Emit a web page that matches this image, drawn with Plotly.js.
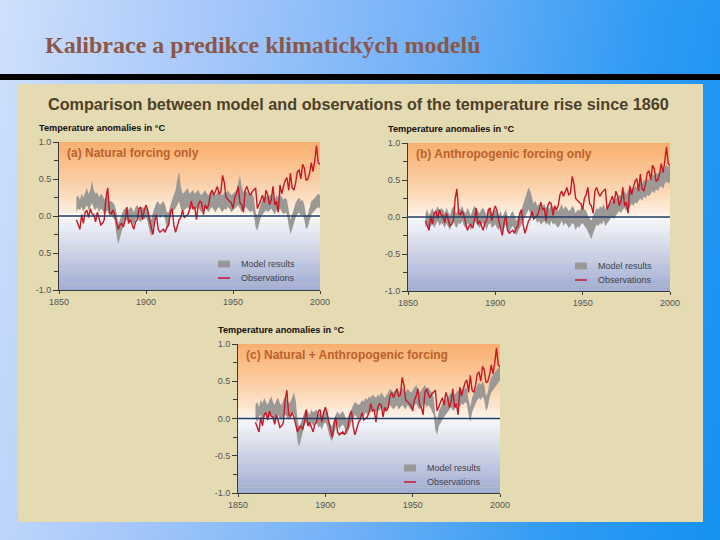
<!DOCTYPE html>
<html>
<head>
<meta charset="utf-8">
<script src="https://cdn.plot.ly/plotly-3.0.1.min.js"></script>
<style>
html,body{margin:0;padding:0;width:720px;height:540px;overflow:hidden;
background:linear-gradient(100deg,#cfe0fb 0%,#a9c9fa 25%,#6fb0f7 55%,#2f9bf4 80%,#1591f2 100%);}
#chart{width:720px;height:540px;}
</style>
</head>
<body>
<div id="chart"></div>
<script>
// ---- data ----
const startYear = 1860;
const endYear = 2000;
const xTickVals = [1850, 1900, 1950, 2000];
const xTickText = ["1850", "1900", "1950", "2000"];
const yTickVals = [1, 0.5, 0, -0.5, -1];
const yTickTextA = ["1.0", "0.5", "0.0", "0.5", "-1.0"];
const yTickTextB = ["1.0", "0.5", "0.0", "-0.5", "-1.0"];
const yTickTextC = ["1.0", "0.5", "0.0", "-0.5", "-1.0"];

const observations = [
 -0.05,-0.12,-0.18,0.02,-0.10,0.05,0.08,-0.02,0.10,0.03,
 0.02,-0.08,0.05,-0.03,-0.12,-0.10,-0.05,0.25,0.38,0.05,
 0.03,0.08,0.02,-0.08,-0.18,-0.12,-0.10,-0.15,-0.05,0.12,
 -0.10,-0.05,-0.12,-0.18,-0.08,-0.05,0.10,0.12,-0.05,0.08,
 0.15,0.08,-0.05,-0.15,-0.25,-0.08,0.02,-0.18,-0.22,-0.20,
 -0.18,-0.22,-0.15,-0.12,0.05,0.10,-0.12,-0.22,-0.12,-0.05,
 -0.02,0.08,-0.02,0.00,0.02,0.08,0.20,0.10,0.12,-0.05,
 0.15,0.20,0.18,0.02,0.15,0.10,0.15,0.30,0.35,0.28,
 0.35,0.40,0.30,0.32,0.55,0.45,0.25,0.22,0.20,0.18,
 0.10,0.25,0.30,0.40,0.18,0.15,0.05,0.35,0.40,0.32,
 0.28,0.33,0.35,0.38,0.10,0.15,0.22,0.28,0.18,0.35,
 0.28,0.15,0.22,0.40,0.15,0.20,0.05,0.42,0.30,0.40,
 0.48,0.52,0.35,0.58,0.38,0.35,0.45,0.60,0.62,0.50,
 0.70,0.65,0.48,0.50,0.58,0.72,0.60,0.75,0.95,0.72,
 0.70];

const naturalLower = [
 0.05,0.10,0.08,0.12,0.06,0.10,0.15,0.08,0.12,0.18,
 0.10,0.08,0.12,0.05,0.10,0.08,0.02,0.05,0.08,0.00,
 0.02,-0.02,-0.05,-0.25,-0.38,-0.30,-0.20,-0.12,-0.08,-0.05,
 -0.10,-0.05,-0.08,-0.12,-0.05,-0.02,-0.06,-0.08,-0.03,-0.05,
 -0.02,-0.08,-0.20,-0.28,-0.15,-0.05,0.00,0.02,-0.03,0.00,
 0.02,-0.05,-0.18,-0.15,-0.02,0.05,0.08,0.10,0.15,0.20,
 0.10,0.05,0.08,0.10,0.12,0.08,0.10,0.12,0.08,0.10,
 0.12,0.08,0.05,0.10,0.12,0.08,0.05,0.10,0.12,0.08,
 0.05,0.10,0.12,0.08,0.05,0.10,0.08,0.12,0.10,0.05,
 0.08,0.10,0.12,0.15,0.10,0.05,0.08,0.12,0.10,0.08,
 0.05,0.08,0.02,-0.15,-0.20,-0.10,-0.02,0.02,0.05,0.08,
 0.05,0.08,0.10,0.06,0.02,0.08,0.05,0.10,0.06,0.02,
 0.05,0.02,-0.12,-0.25,-0.18,-0.08,-0.02,0.02,0.05,0.00,
 0.02,-0.05,-0.18,-0.15,-0.05,0.02,0.05,0.08,0.10,0.12,
 0.10];
const naturalUpper = [
 0.25,0.28,0.22,0.30,0.25,0.32,0.38,0.30,0.35,0.48,
 0.35,0.30,0.32,0.25,0.30,0.28,0.22,0.25,0.28,0.20,
 0.20,0.18,0.15,0.05,-0.10,-0.05,0.02,0.08,0.10,0.12,
 0.08,0.12,0.10,0.05,0.12,0.15,0.10,0.08,0.12,0.10,
 0.15,0.10,0.02,-0.05,0.05,0.12,0.18,0.20,0.15,0.18,
 0.20,0.15,0.05,0.05,0.15,0.22,0.28,0.35,0.50,0.60,
 0.40,0.30,0.32,0.35,0.38,0.30,0.32,0.35,0.30,0.32,
 0.35,0.30,0.28,0.32,0.35,0.30,0.28,0.32,0.35,0.30,
 0.28,0.32,0.35,0.30,0.28,0.32,0.30,0.35,0.32,0.28,
 0.30,0.32,0.35,0.45,0.55,0.40,0.32,0.35,0.32,0.30,
 0.28,0.30,0.25,0.05,0.00,0.10,0.18,0.22,0.25,0.28,
 0.25,0.28,0.30,0.26,0.22,0.28,0.25,0.30,0.26,0.22,
 0.25,0.22,0.08,-0.05,0.02,0.12,0.18,0.22,0.25,0.20,
 0.22,0.15,0.00,0.02,0.12,0.20,0.22,0.25,0.28,0.30,
 0.28];

const anthroLower = [
 -0.15,-0.10,-0.18,-0.12,-0.08,-0.15,-0.10,-0.05,-0.12,-0.08,
 -0.10,-0.15,-0.08,-0.12,-0.18,-0.10,-0.05,-0.12,-0.15,-0.08,
 -0.10,-0.05,-0.12,-0.15,-0.08,-0.12,-0.18,-0.10,-0.05,-0.08,
 -0.12,-0.15,-0.10,-0.08,-0.12,-0.18,-0.10,-0.08,-0.15,-0.12,
 -0.10,-0.15,-0.18,-0.12,-0.20,-0.15,-0.10,-0.18,-0.22,-0.15,
 -0.12,-0.18,-0.25,-0.20,-0.15,-0.10,-0.05,0.00,0.05,0.10,
 0.05,0.00,-0.05,-0.02,-0.08,-0.05,-0.10,-0.08,-0.05,-0.10,
 -0.08,-0.12,-0.05,-0.10,-0.08,-0.12,-0.15,-0.10,-0.05,-0.12,
 -0.08,-0.10,-0.15,-0.12,-0.08,-0.10,-0.18,-0.12,-0.15,-0.10,
 -0.08,-0.12,-0.15,-0.20,-0.25,-0.30,-0.22,-0.15,-0.10,-0.12,
 -0.08,-0.10,-0.05,-0.12,-0.08,-0.05,-0.02,0.00,-0.03,0.02,
 0.05,0.08,0.05,0.10,0.12,0.08,0.15,0.12,0.18,0.15,
 0.20,0.18,0.22,0.25,0.22,0.28,0.25,0.30,0.28,0.32,
 0.35,0.32,0.38,0.35,0.40,0.42,0.38,0.45,0.48,0.45,
 0.48];
const anthroUpper = [
 0.05,0.10,0.02,0.08,0.12,0.05,0.10,0.15,0.08,0.12,
 0.10,0.05,0.12,0.08,0.02,0.10,0.15,0.08,0.05,0.12,
 0.10,0.15,0.08,0.05,0.12,0.08,0.02,0.10,0.15,0.12,
 0.08,0.05,0.10,0.12,0.08,0.02,0.10,0.12,0.05,0.08,
 0.10,0.05,0.02,0.08,0.00,0.05,0.10,0.02,-0.02,0.05,
 0.08,0.02,-0.05,0.00,0.05,0.10,0.18,0.25,0.32,0.40,
 0.35,0.25,0.18,0.22,0.15,0.18,0.12,0.15,0.18,0.12,
 0.15,0.10,0.18,0.12,0.15,0.10,0.08,0.12,0.18,0.10,
 0.15,0.12,0.08,0.10,0.15,0.12,0.05,0.10,0.08,0.12,
 0.15,0.10,0.08,0.02,-0.02,-0.05,0.02,0.08,0.12,0.10,
 0.15,0.12,0.18,0.10,0.15,0.18,0.20,0.22,0.20,0.25,
 0.28,0.30,0.28,0.32,0.35,0.30,0.38,0.35,0.40,0.38,
 0.42,0.40,0.45,0.48,0.45,0.50,0.48,0.52,0.50,0.55,
 0.58,0.55,0.60,0.58,0.62,0.65,0.60,0.68,0.70,0.68,
 0.70];

const combinedLower = [
 0.00,-0.05,0.02,0.05,-0.02,0.03,0.05,0.00,0.02,0.05,
 0.00,-0.03,0.02,0.05,0.00,-0.02,0.03,0.05,0.02,-0.02,
 0.00,0.05,0.08,-0.05,-0.30,-0.38,-0.28,-0.18,-0.10,-0.05,
 -0.08,-0.12,-0.05,-0.10,-0.08,-0.05,-0.12,-0.10,-0.15,-0.08,
 -0.05,-0.10,-0.20,-0.28,-0.30,-0.20,-0.12,-0.08,-0.15,-0.10,
 -0.08,-0.12,-0.22,-0.18,-0.10,-0.05,0.00,0.05,0.02,-0.02,
 0.00,0.05,0.02,0.08,0.05,0.10,0.08,0.12,0.10,0.08,
 0.12,0.10,0.15,0.12,0.08,0.12,0.15,0.18,0.15,0.12,
 0.15,0.18,0.12,0.15,0.18,0.15,0.12,0.18,0.15,0.12,
 0.15,0.18,0.20,0.15,0.12,0.15,0.18,0.20,0.15,0.18,
 0.15,0.10,0.05,-0.15,-0.22,-0.10,-0.05,-0.02,0.02,0.05,
 0.08,0.12,0.15,0.10,0.12,0.15,0.18,0.15,0.20,0.18,
 0.22,0.20,0.05,-0.05,0.08,0.15,0.20,0.25,0.28,0.25,
 0.30,0.25,0.10,0.15,0.28,0.35,0.38,0.42,0.45,0.48,
 0.52];
const combinedUpper = [
 0.18,0.22,0.15,0.25,0.20,0.28,0.22,0.18,0.25,0.30,
 0.22,0.18,0.25,0.28,0.20,0.18,0.25,0.30,0.25,0.20,
 0.22,0.28,0.35,0.25,0.00,-0.12,-0.05,0.02,0.08,0.12,
 0.10,0.05,0.12,0.08,0.10,0.12,0.05,0.08,0.02,0.10,
 0.12,0.08,0.00,-0.08,-0.10,0.00,0.05,0.10,0.05,0.08,
 0.10,0.05,-0.02,0.02,0.08,0.12,0.18,0.22,0.20,0.18,
 0.20,0.25,0.22,0.28,0.25,0.30,0.28,0.32,0.30,0.28,
 0.32,0.30,0.35,0.32,0.28,0.32,0.35,0.40,0.38,0.35,
 0.38,0.40,0.35,0.38,0.42,0.38,0.35,0.40,0.38,0.35,
 0.38,0.42,0.45,0.40,0.35,0.38,0.42,0.45,0.40,0.42,
 0.38,0.35,0.28,0.05,-0.02,0.10,0.15,0.20,0.22,0.25,
 0.28,0.32,0.35,0.30,0.32,0.35,0.38,0.35,0.40,0.38,
 0.42,0.40,0.25,0.15,0.28,0.35,0.40,0.45,0.48,0.45,
 0.50,0.45,0.30,0.35,0.48,0.55,0.58,0.62,0.65,0.68,
 0.72];

const panelLabels = ["(a) Natural forcing only", "(b) Anthropogenic forcing only", "(c) Natural + Anthropogenic forcing"];
const legendNames = ["Model results", "Observations"];
const slideTitle = "Kalibrace a predikce klimatických modelů";
const heading = "Comparison between model and observations of the temperature rise since 1860";
const yAxisLabel = "Temperature anomalies in °C";

// ---- build ----
const years = [];
for (let y = startYear; y <= endYear; y++) years.push(y);

const W = 720, H = 540;
const px = v => v / W;
const py = v => 1 - v / H;

const panels = [
  {xa:'x', ya:'y', lower:naturalLower, upper:naturalUpper, ticks:yTickTextA,
   left:59, right:320, top:142, bottom:290, legX:218, legY:264},
  {xa:'x2', ya:'y2', lower:anthroLower, upper:anthroUpper, ticks:yTickTextB,
   left:408, right:670, top:143, bottom:291, legX:575, legY:266},
  {xa:'x3', ya:'y3', lower:combinedLower, upper:combinedUpper, ticks:yTickTextC,
   left:238, right:500, top:344, bottom:493, legX:404, legY:468}
];

const grayBand = 'rgb(155,153,150)';
const redLine = 'rgb(200,24,38)';
const axisCol = '#3a3a3a';
const tickFont = {family:'Liberation Sans, Arial, sans-serif', size:9, color:'#555'};
const legFont = {family:'Liberation Sans, Arial, sans-serif', size:9, color:'#444'};

const traces = [];
const layout = {
  width:W, height:H, margin:{l:0,r:0,t:0,b:0},
  paper_bgcolor:'rgba(0,0,0,0)', plot_bgcolor:'rgba(0,0,0,0)',
  showlegend:false, shapes:[], annotations:[]
};

function lerp(a,b,t){return a.map((v,i)=>Math.round(v+(b[i]-v)*t));}
const topCol=[250,172,104], midTop=[255,249,243], midBot=[248,249,253], botCol=[155,168,211];

panels.forEach((p, i) => {
  const n = i === 0 ? '' : String(i+1);
  traces.push({x:years, y:p.lower, xaxis:p.xa, yaxis:p.ya, mode:'lines', line:{width:0, color:grayBand},
    hoverinfo:'skip', name:legendNames[0]+' (low)'});
  traces.push({x:years, y:p.upper, xaxis:p.xa, yaxis:p.ya, mode:'lines', line:{width:0, color:grayBand},
    fill:'tonexty', fillcolor:grayBand, name:legendNames[0]});
  traces.push({x:years, y:observations, xaxis:p.xa, yaxis:p.ya, mode:'lines',
    line:{width:1.4, color:redLine}, name:legendNames[1]});

  const xd = [px(p.left), px(p.right)];
  const yd = [py(p.bottom), py(p.top)];
  layout['xaxis'+n] = {domain:xd, range:[1850,2000], anchor:p.ya, tickmode:'array', tickvals:xTickVals,
    ticktext:xTickText, ticks:'outside', ticklen:3, tickcolor:axisCol, showline:true, linecolor:axisCol,
    linewidth:1, showgrid:false, zeroline:false, tickfont:tickFont, fixedrange:true};
  layout['yaxis'+n] = {domain:yd, range:[-1,1], anchor:p.xa, tickmode:'array', tickvals:yTickVals,
    ticktext:p.ticks, ticks:'outside', ticklen:5, tickcolor:axisCol, showline:true, linecolor:axisCol,
    linewidth:1, showgrid:false, zeroline:false, tickfont:tickFont,
    minor:{tickmode:'linear', tick0:0, dtick:0.25, ticks:'outside', ticklen:4, tickcolor:axisCol}};
  const rn = String(i+4);
  layout['yaxis'+rn] = {domain:yd, range:[-1,1], overlaying:p.ya, anchor:p.xa, side:'right', tickmode:'array',
    tickvals:yTickVals, ticktext:p.ticks, ticks:'outside', ticklen:5, tickcolor:axisCol, showline:true,
    linecolor:axisCol, linewidth:1, showgrid:false, zeroline:false, tickfont:tickFont,
    minor:{tickmode:'linear', tick0:0, dtick:0.25, ticks:'outside', ticklen:4, tickcolor:axisCol}};

  // background gradient bands
  const N = 40;
  for (let k = 0; k < N; k++) {
    const t = k / N;
    const c1 = lerp(midTop, topCol, Math.pow(t, 0.75));
    layout.shapes.push({type:'rect', xref:p.xa+' domain', yref:p.ya, x0:0, x1:1, y0:t, y1:(k+1)/N + 0.002,
      fillcolor:'rgb('+c1.join(',')+')', line:{width:0}, layer:'below'});
    const c2 = lerp(midBot, botCol, Math.pow(t, 1.0));
    layout.shapes.push({type:'rect', xref:p.xa+' domain', yref:p.ya, x0:0, x1:1, y0:-(k+1)/N - 0.002, y1:-t,
      fillcolor:'rgb('+c2.join(',')+')', line:{width:0}, layer:'below'});
  }
  layout.shapes.push({type:'line', xref:p.xa+' domain', yref:p.ya, x0:0, x1:1, y0:0, y1:0,
    line:{color:'#1d3d66', width:1.6}, layer:'above'});

  // custom legend
  layout.shapes.push({type:'rect', xref:'paper', yref:'paper', x0:px(p.legX), x1:px(p.legX+12),
    y0:py(p.legY+3.5), y1:py(p.legY-3.5), fillcolor:grayBand, line:{width:0}, layer:'above'});
  layout.shapes.push({type:'line', xref:'paper', yref:'paper', x0:px(p.legX), x1:px(p.legX+12),
    y0:py(p.legY+14), y1:py(p.legY+14), line:{color:redLine, width:1.5}, layer:'above'});
  layout.annotations.push({xref:'paper', yref:'paper', x:px(p.legX+21), y:py(p.legY), xanchor:'left', yanchor:'middle',
    text:legendNames[0], showarrow:false, font:legFont});
  layout.annotations.push({xref:'paper', yref:'paper', x:px(p.legX+21), y:py(p.legY+14), xanchor:'left', yanchor:'middle',
    text:legendNames[1], showarrow:false, font:legFont});

  layout.annotations.push({xref:'paper', yref:'paper', x:px(p.left+6), y:py(p.top+11), xanchor:'left', yanchor:'middle',
    text:'<b>'+panelLabels[i]+'</b>', showarrow:false,
    font:{family:'Liberation Sans, Arial, sans-serif', size:12, color:'#bb622c'}});
  layout.annotations.push({xref:'paper', yref:'paper', x:px(p.left-22), y:py(p.top-14), xanchor:'left', yanchor:'middle',
    text:'<b>'+yAxisLabel+'</b>', showarrow:false,
    font:{family:'Liberation Sans, Arial, sans-serif', size:9.2, color:'#111'}});
});

layout.shapes.unshift(
  {type:'rect', xref:'paper', yref:'paper', x0:0, x1:1, y0:py(80), y1:py(74), fillcolor:'#000', line:{width:0}, layer:'below'},
  {type:'rect', xref:'paper', yref:'paper', x0:px(18), x1:px(703), y0:py(522), y1:py(84), fillcolor:'#e4dbb3', line:{width:0}, layer:'below'}
);

layout.annotations.push({xref:'paper', yref:'paper', x:px(43), y:py(45), xanchor:'left', yanchor:'middle',
  text:'<b>'+slideTitle+'</b>', showarrow:false,
  font:{family:'Liberation Serif, Times New Roman, serif', size:24, color:'#8c5646'}});
layout.annotations.push({xref:'paper', yref:'paper', x:px(46), y:py(104), xanchor:'left', yanchor:'middle',
  text:'<b>'+heading+'</b>', showarrow:false,
  font:{family:'Liberation Sans, Arial, sans-serif', size:16.2, color:'#4e4029'}});

Plotly.newPlot('chart', traces, layout, {staticPlot:true, displayModeBar:false});
</script>
</body>
</html>
